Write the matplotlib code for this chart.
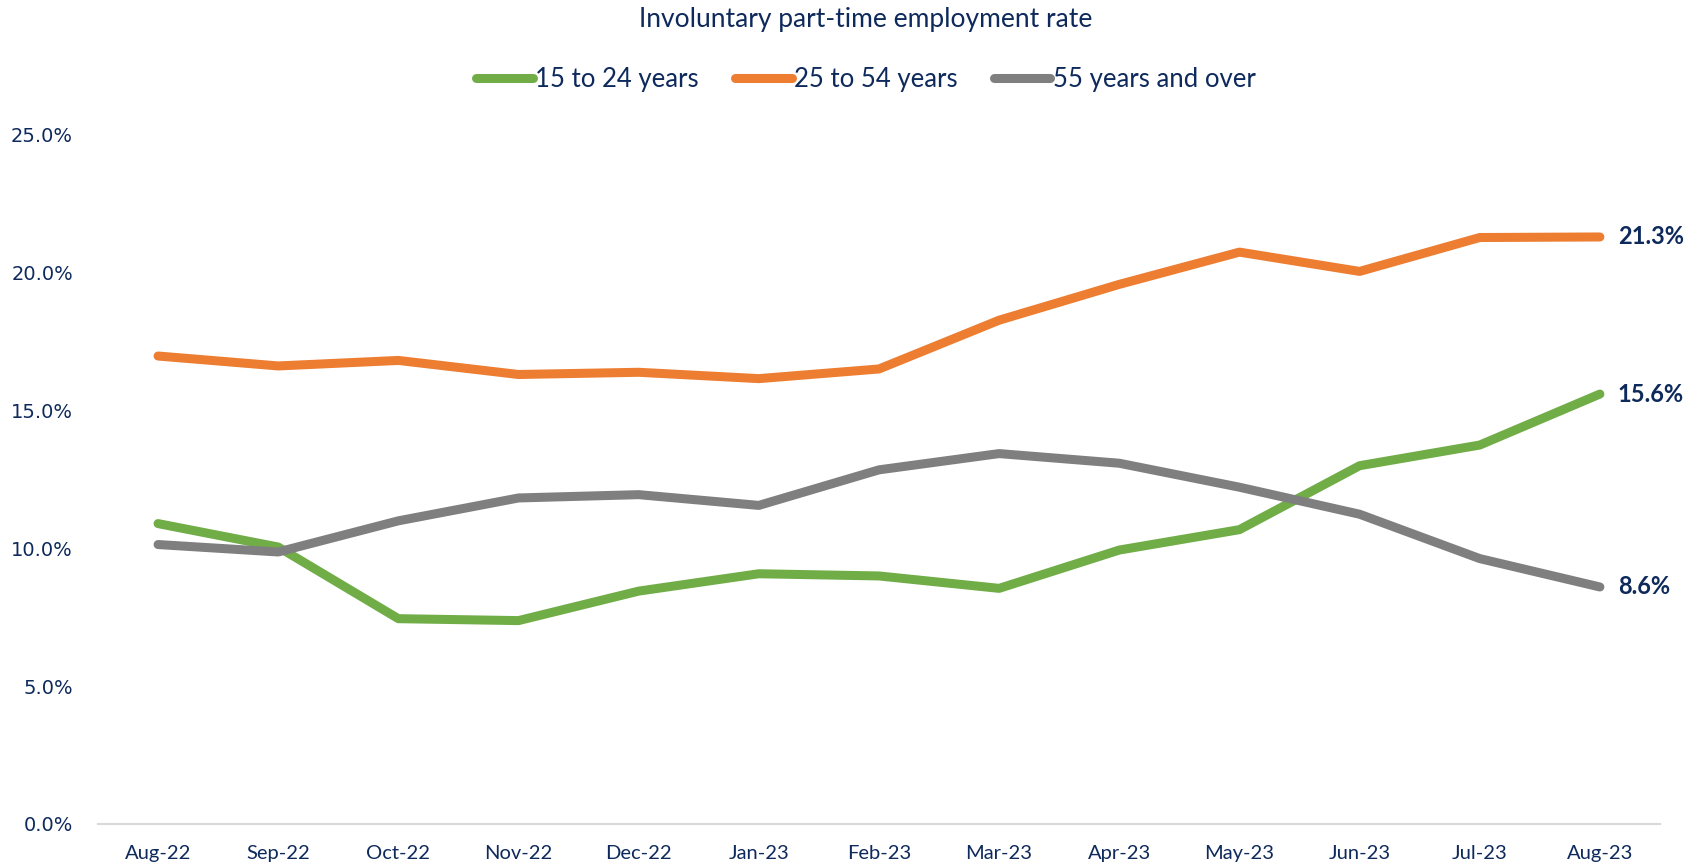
import matplotlib.pyplot as plt
import numpy as np

months = ['Aug-22', 'Sep-22', 'Oct-22', 'Nov-22', 'Dec-22', 'Jan-23', 'Feb-23',
          'Mar-23', 'Apr-23', 'May-23', 'Jun-23', 'Jul-23', 'Aug-23']
young = [10.9, 10.05, 7.45, 7.38, 8.45, 9.08, 9.0, 8.55, 9.94, 10.68, 13.0, 13.75, 15.6]
prime = [16.98, 16.62, 16.82, 16.31, 16.39, 16.16, 16.51, 18.28, 19.58, 20.75, 20.05, 21.28, 21.3]
older = [10.14, 9.87, 11.0, 11.83, 11.95, 11.56, 12.85, 13.44, 13.09, 12.22, 11.24, 9.63, 8.6]

series_names = ['15 to 24 years', '25 to 54 years', '55 years and over']
colors = ['#70AD47', '#ED7D31', '#7F7F7F']
navy = '#0E2A5C'

fig = plt.figure(figsize=(16.98, 8.67), dpi=100)
ax = fig.add_axes([0.0577, 0.0496, 0.9199, 0.7947])

x = np.arange(len(months))
for vals, name, c in zip([young, prime, older], series_names, colors):
    ax.plot(x, vals, color=c, lw=6.5, solid_capstyle='round', solid_joinstyle='round', label=name)
    ax.annotate(f'{vals[-1]:.1f}%', (x[-1], vals[-1]), xytext=(13, 0), textcoords='offset points',
                ha='left', va='center', fontsize=17, fontweight='bold', color=navy, family='Lato')

ax.set_xlim(-0.5, len(months) - 0.5)
ax.set_ylim(0, 25)
ax.set_yticks(np.arange(0, 26, 5))
ax.set_yticklabels([f'{v:.1f}%' for v in np.arange(0, 26, 5)], fontsize=14, color=navy, family='DejaVu Sans')
ax.set_xticks(x)
ax.set_xticklabels(months, fontsize=14.5, color=navy, family='Lato')
ax.tick_params(axis='both', length=0)
ax.tick_params(axis='x', pad=15)
ax.tick_params(axis='y', pad=18)
for s in ['top', 'right', 'left']:
    ax.spines[s].set_visible(False)
ax.spines['bottom'].set_color('#D9D9D9')
ax.spines['bottom'].set_linewidth(1.5)

fig.text(0.51, 0.977, 'Involuntary part-time employment rate', ha='center', va='center',
         fontsize=19, color=navy, family='Lato')
leg = fig.legend(loc='center', bbox_to_anchor=(0.51, 0.908), ncol=3, frameon=False,
                 prop={'family': 'Lato', 'size': 18.5}, handlelength=2.2, handletextpad=0.1,
                 columnspacing=1.4)
for t in leg.get_texts():
    t.set_color(navy)

fig.savefig('out.png', dpi=100)
